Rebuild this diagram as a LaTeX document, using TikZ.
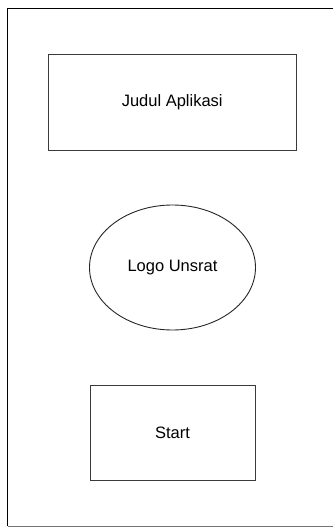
\documentclass[tikz,border=0pt]{standalone}
\usepackage{fontspec}
\setmainfont{Liberation Sans}
\usetikzlibrary{shapes.geometric}
\definecolor{edge}{HTML}{3A3A3A}
\begin{document}
\begin{tikzpicture}[x=1pt,y=-1pt,
  frameline/.style={line width=1.2pt,draw=black},
  block/.style={draw=edge,line width=1pt,rectangle,inner sep=0pt,font=\fontsize{16.5}{20}\selectfont},
  oval/.style={draw=black!85,line width=0.9pt,ellipse,inner sep=0pt,font=\fontsize{16.5}{20}\selectfont}]
  \useasboundingbox (0,0) rectangle (333,527);
  \fill[white] (0,0) rectangle (333,527);
  % page frame (right edge runs beyond the sheet)
  \coordinate (tr) at (333,8.5);
  \coordinate (tl) at (7.5,8.5);
  \coordinate (bl) at (7.5,526);
  \coordinate (br) at (333,526);
  \draw[frameline] (tr) -- (tl) -- (bl);
  \draw[line width=1pt,draw=black!55] (bl) -- (br);
  % screen elements
  \node[block,minimum width=248pt,minimum height=95pt] (judul) at (172.2,102.5) {Judul Aplikasi};
  \node[oval,minimum width=166pt,minimum height=125pt] (logo) at (172.5,267.5) {Logo Unsrat};
  \node[block,minimum width=165pt,minimum height=95pt] (start) at (172.5,432.5) {Start};
\end{tikzpicture}
\end{document}
